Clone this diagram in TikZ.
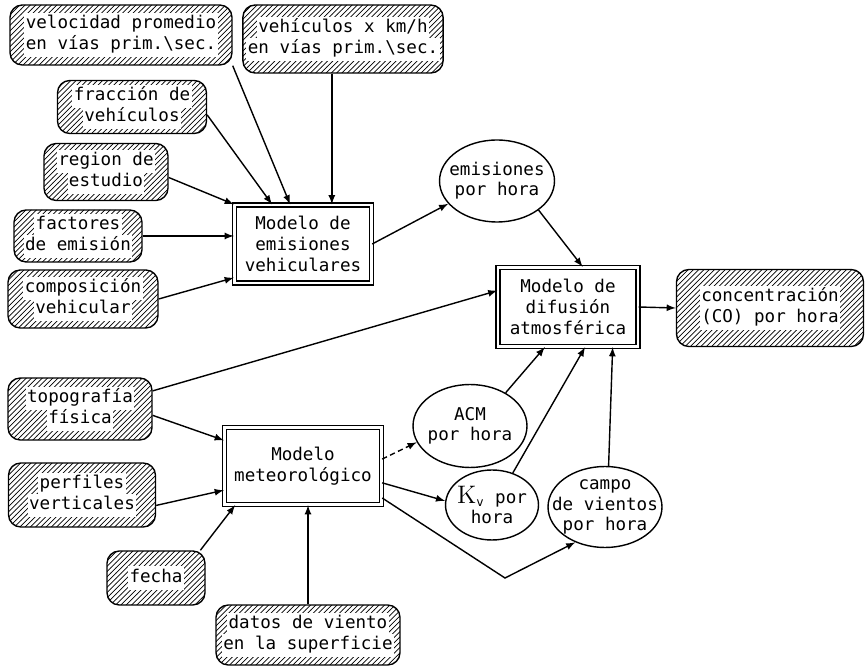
\documentclass[tikz,border=0pt]{standalone}
\usepackage{fontspec}
\setmonofont{DejaVu Sans Mono}
\usetikzlibrary{shapes.geometric, arrows, patterns, positioning}
\setlength{\fboxsep}{0.8pt}
\newcommand{\wl}[1]{\colorbox{white}{\strut #1}}
\newcommand{\hatchfont}{\ttfamily\fontsize{10}{12}\selectfont\lineskiplimit=-5pt\relax}
\tikzset{
  hatchbox/.style={rectangle, draw, thick, rounded corners=7pt,
                   pattern=north east lines, align=center, inner sep=2pt,
                   font=\hatchfont},
  modelbox/.style={rectangle, draw, thick, double, double distance=1.6pt,
                   fill=white, align=center,
                   font=\ttfamily\fontsize{10}{12}\selectfont},
  ovalbox/.style={ellipse, draw, thick},
  ovaltext/.style={align=center, font=\ttfamily\fontsize{10}{11.5}\selectfont},
  flow/.style={->, thick}
}

\begin{document}
\begin{tikzpicture}[x=0.02cm, y=-0.02cm, >=latex]
\useasboundingbox (0,0) rectangle (866,668);

% Inputs of the emissions model
\node[hatchbox, minimum width=4.44cm, minimum height=1.2cm] (velprom) at (121,35)
      {\wl{velocidad promedio}\\\wl{en vías prim.\textbackslash sec.}};
\node[hatchbox, minimum width=3.54cm, minimum height=1.36cm] (vehkm) at (343,39)
      {\wl{vehículos x km/h}\\\wl{en vías prim.\textbackslash sec.}};
\node[hatchbox, minimum width=2.98cm, minimum height=1.06cm] (fraccion) at (132,107)
      {\wl{fracción de}\\\wl{vehículos}};
\node[hatchbox, minimum width=2.48cm, minimum height=1.14cm] (region) at (106,172)
      {\wl{region de}\\\wl{estudio}};
\node[hatchbox, minimum width=2.56cm, minimum height=0.96cm] (factores) at (78,236)
      {\wl{factores}\\\wl{de emisión}};
\node[hatchbox, minimum width=3.0cm, minimum height=1.16cm] (compos) at (83,299)
      {\wl{composición}\\\wl{vehicular}};

% Models
\node[modelbox, minimum width=2.74cm, minimum height=1.56cm] (emod) at (303,244)
      {Modelo de\\emisiones\\vehiculares};
\node[modelbox, minimum width=2.8cm, minimum height=1.58cm] (difus) at (568,307)
      {Modelo de\\difusión\\atmosférica};
\node[modelbox, minimum width=3.14cm, minimum height=1.54cm] (meteo) at (303,466)
      {Modelo\\meteorológico};

% Output
\node[hatchbox, minimum width=3.74cm, minimum height=1.54cm] (conc) at (770,308)
      {\wl{concentración}\\\wl{(CO) por hora}};

% Inputs of the meteorological model
\node[hatchbox, minimum width=2.88cm, minimum height=1.24cm] (topo) at (80,409)
      {\wl{topografía}\\\wl{física}};
\node[hatchbox, minimum width=2.94cm, minimum height=1.28cm] (perfil) at (82,495)
      {\wl{perfiles}\\\wl{verticales}};
\node[hatchbox, minimum width=1.96cm, minimum height=1.08cm] (fecha) at (156,578)
      {\wl{fecha}};
\node[hatchbox, minimum width=3.68cm, minimum height=1.2cm] (datos) at (308,635)
      {\wl{datos de viento}\\\wl{en la superficie}};

% Intermediate results
\node[ovalbox, minimum width=2.3cm, minimum height=1.64cm,
      label={[ovaltext]center:{emisiones\\por hora}}] (emish) at (497,181) {};
\node[ovalbox, minimum width=2.28cm, minimum height=1.66cm,
      label={[ovaltext]center:{ACM\\por hora}}] (acm) at (470,426) {};
\node[ovalbox, minimum width=1.86cm, minimum height=1.4cm,
      label={[ovaltext]center:{{\Large\rmfamily K}\textsubscript{v} por\\hora}}] (kv) at (492,505) {};
\node[ovalbox, minimum width=2.28cm, minimum height=1.62cm,
      label={[ovaltext]center:{campo\\de vientos\\por hora}}] (campo) at (605,507) {};
\coordinate (wbend) at (505,578);

% Flow arrows
\draw[flow] (velprom.south east) -- (emod.108);
\draw[flow] (fraccion.-6) -- (emod.128);
\draw[flow] (region.-5) -- (emod.north west);
\draw[flow] (factores.east) -- (factores.east -| emod.west);
\draw[flow] (compos.east) -- (emod.206);
\draw[flow] (vehkm.south -| emod.54) -- (emod.54);
\draw[flow] (emod.east) -- (emish.205);
\draw[flow] (emish.-35) -- (difus.70);
\draw[flow] (topo.14) -- (difus.167);
\draw[flow] (difus.east) -- (conc.west);
\draw[flow] (topo.-5) -- (meteo.162);
\draw[flow] (perfil.-8) -- (meteo.197);
\draw[flow] (fecha.32) -- (meteo.210);
\draw[flow] (datos.north) -- (datos.north |- meteo.south);
\draw[flow, densely dashed] (meteo.5) -- (acm.197);
\draw[flow] (meteo.-12) -- (kv.175);
\draw[flow] (meteo.-22) -- (wbend) -- (campo.230);
\draw[flow] (acm.43) -- (difus.240);
\draw[flow] (kv.57) -- (difus.293);
\draw[flow] (campo.85) -- (difus.318);

\end{tikzpicture}
\end{document}
